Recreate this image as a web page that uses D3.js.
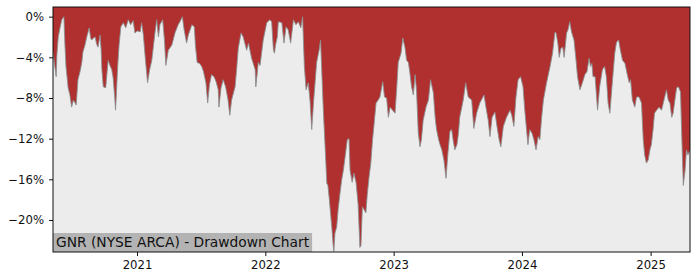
<!DOCTYPE html>
<html>
<head>
<meta charset="utf-8">
<script src="https://cdn.jsdelivr.net/npm/d3@7"></script>
<style>
  html, body { margin: 0; padding: 0; background: #ffffff; }
  svg { display: block; font-family: "DejaVu Sans", sans-serif; }
</style>
</head>
<body>
<svg id="chart" width="700" height="280"></svg>
<script>
const title = "GNR (NYSE ARCA) - Drawdown Chart";
const dates = [
"2020-05-07","2020-05-10","2020-05-16","2020-05-18","2020-05-22","2020-05-27","2020-06-01","2020-06-07","2020-06-10","2020-06-13",
"2020-06-19","2020-06-24","2020-06-29","2020-07-04","2020-07-09","2020-07-12","2020-07-17","2020-07-23","2020-07-28","2020-07-31",
"2020-08-06","2020-08-11","2020-08-18","2020-08-22","2020-08-25","2020-08-30","2020-09-04","2020-09-08","2020-09-12","2020-09-18",
"2020-09-21","2020-09-23","2020-09-27","2020-10-04","2020-10-08","2020-10-11","2020-10-16","2020-10-21","2020-10-25","2020-10-29",
"2020-11-01","2020-11-07","2020-11-11","2020-11-16","2020-11-23","2020-11-30","2020-12-07","2020-12-14","2020-12-21","2020-12-26",
"2021-01-02","2021-01-10","2021-01-14","2021-01-19","2021-01-25","2021-01-31","2021-02-06","2021-02-12","2021-02-17","2021-02-21",
"2021-02-26","2021-03-03","2021-03-07","2021-03-15","2021-03-20","2021-03-24","2021-03-31","2021-04-10","2021-04-19","2021-04-28",
"2021-05-03","2021-05-10","2021-05-15","2021-05-22","2021-05-27","2021-06-06","2021-06-13","2021-06-16","2021-06-21","2021-06-28",
"2021-07-04","2021-07-09","2021-07-16","2021-07-21","2021-07-26","2021-08-01","2021-08-08","2021-08-14","2021-08-20","2021-08-22",
"2021-08-28","2021-09-03","2021-09-10","2021-09-17","2021-09-22","2021-09-27","2021-10-07","2021-10-12","2021-10-16","2021-10-24",
"2021-10-30","2021-11-09","2021-11-14","2021-11-23","2021-12-03","2021-12-05","2021-12-12","2021-12-17","2021-12-26","2022-01-05",
"2022-01-14","2022-01-19","2022-01-24","2022-01-27","2022-01-30","2022-02-04","2022-02-07","2022-02-17","2022-02-23","2022-03-01",
"2022-03-07","2022-03-14","2022-03-22","2022-03-29","2022-04-05","2022-04-12","2022-04-17","2022-04-22","2022-04-27","2022-05-03",
"2022-05-08","2022-05-13","2022-05-18","2022-05-27","2022-06-03","2022-06-07","2022-06-10","2022-06-15","2022-06-20","2022-06-25",
"2022-06-28","2022-07-02","2022-07-09","2022-07-13","2022-07-15","2022-07-18","2022-07-23","2022-07-27","2022-08-01","2022-08-06",
"2022-08-11","2022-08-16","2022-08-22","2022-08-27","2022-08-30","2022-09-05","2022-09-10","2022-09-16","2022-09-22","2022-09-27",
"2022-09-30","2022-10-04","2022-10-09","2022-10-14","2022-10-18","2022-10-23","2022-10-28","2022-11-02","2022-11-06","2022-11-12",
"2022-11-18","2022-11-23","2022-12-01","2022-12-06","2022-12-12","2022-12-17","2022-12-22","2022-12-29","2023-01-05","2023-01-10",
"2023-01-14","2023-01-22","2023-01-27","2023-02-02","2023-02-07","2023-02-12","2023-02-16","2023-02-21","2023-02-26","2023-03-03",
"2023-03-07","2023-03-12","2023-03-17","2023-03-21","2023-03-26","2023-04-03","2023-04-10","2023-04-16","2023-04-24","2023-04-29",
"2023-05-03","2023-05-09","2023-05-13","2023-05-18","2023-05-24","2023-05-30","2023-06-04","2023-06-10","2023-06-15","2023-06-19",
"2023-06-24","2023-06-30","2023-07-04","2023-07-08","2023-07-18","2023-07-25","2023-08-01","2023-08-11","2023-08-17","2023-08-25",
"2023-09-03","2023-09-15","2023-09-22","2023-09-27","2023-10-02","2023-10-08","2023-10-16","2023-10-22","2023-10-28","2023-11-02",
"2023-11-09","2023-11-18","2023-11-28","2023-12-03","2023-12-09","2023-12-15","2023-12-21","2023-12-28","2024-01-04","2024-01-09",
"2024-01-14","2024-01-18","2024-01-23","2024-01-30","2024-02-04","2024-02-10","2024-02-16","2024-02-21","2024-02-26","2024-03-02",
"2024-03-11","2024-03-21","2024-03-28","2024-04-04","2024-04-07","2024-04-12","2024-04-16","2024-04-21","2024-04-26","2024-04-30",
"2024-05-07","2024-05-11","2024-05-16","2024-05-21","2024-05-28","2024-06-02","2024-06-07","2024-06-14","2024-06-21","2024-06-28",
"2024-07-04","2024-07-10","2024-07-14","2024-07-18","2024-07-21","2024-07-27","2024-08-03","2024-08-09","2024-08-17","2024-08-23",
"2024-08-28","2024-09-02","2024-09-07","2024-09-13","2024-09-21","2024-09-26","2024-10-02","2024-10-07","2024-10-13","2024-10-20",
"2024-10-26","2024-11-01","2024-11-05","2024-11-10","2024-11-17","2024-11-22","2024-11-29","2024-12-06","2024-12-11","2024-12-15",
"2024-12-20","2024-12-25","2024-12-30","2025-01-03","2025-01-08","2025-01-12","2025-01-18","2025-01-25","2025-02-01","2025-02-06",
"2025-02-15","2025-02-20","2025-02-25","2025-03-02","2025-03-06","2025-03-11","2025-03-16","2025-03-21","2025-03-27","2025-03-30",
"2025-04-04","2025-04-09","2025-04-13","2025-04-17","2025-04-23"
];
const drawdown = [
-3.5,-4.3,-5.9,-3.8,-2.0,-1.1,-0.3,0,-2.8,-4.9,
-7.0,-7.7,-8.9,-8.2,-8.5,-8.7,-6.2,-5.4,-4.5,-3.5,
-2.8,-2.0,-1.1,-2.1,-2.3,-2.1,-2.0,-2.7,-3.0,-1.8,
-3.3,-5.2,-6.9,-7.0,-5.4,-4.3,-4.8,-5.2,-6.0,-7.7,
-9.2,-4.9,-2.8,-1.0,-0.6,-1.1,-0.3,-0.8,-0.4,-1.6,
-1.4,-1.5,-0.6,-1.8,-4.3,-6.5,-5.2,-4.3,-2.8,-1.6,
-0.3,-2.0,-0.8,-0.3,-2.3,-4.8,-3.3,-2.8,-1.6,-0.8,
-0.5,0,-1.3,-2.6,-1.8,-0.8,-1.0,-2.8,-4.5,-4.6,
-4.9,-5.4,-6.5,-8.5,-6.7,-5.7,-5.9,-6.4,-7.2,-8.9,
-7.0,-6.2,-6.9,-8.2,-9.7,-8.2,-6.9,-4.9,-3.1,-1.6,
-2.0,-3.3,-2.6,-4.1,-5.2,-6.9,-4.5,-4.8,-2.3,-0.6,
-0.3,-0.5,-3.3,-3.6,-2.8,-2.0,-0.5,-0.6,-2.6,-1.0,
-1.3,-2.6,-0.3,-0.8,-0.5,-1.1,0,-4.9,-7.2,-6.5,
-8.2,-11.1,-8.5,-4.5,-3.3,-2.3,-4.9,-9.2,-12.8,-16.4,
-16.6,-18.0,-20.7,-22.5,-23.1,-21.3,-20.7,-19.0,-17.5,-16.1,
-15.1,-13.8,-12.1,-12.0,-15.1,-16.3,-15.4,-16.3,-18.5,-22.7,
-22.5,-18.7,-19.0,-19.3,-17.5,-15.8,-14.4,-12.1,-10.7,-8.5,
-8.2,-7.9,-6.4,-7.9,-8.0,-9.9,-8.9,-9.2,-9.5,-6.9,
-4.5,-3.6,-2.1,-3.0,-4.3,-4.5,-5.5,-6.9,-7.7,-5.7,
-7.2,-11.4,-12.8,-12.1,-10.2,-8.9,-8.2,-6.2,-7.5,-9.9,
-11.1,-12.1,-12.6,-13.1,-14.1,-15.9,-13.6,-11.3,-11.1,-12.1,
-13.1,-12.6,-11.6,-9.9,-8.2,-6.5,-7.9,-8.2,-11.0,-9.5,
-8.5,-7.7,-9.2,-10.2,-11.8,-9.9,-9.4,-10.8,-12.1,-12.8,
-10.8,-9.9,-9.2,-9.7,-10.8,-7.9,-6.2,-5.9,-6.9,-9.2,
-11.1,-12.6,-11.1,-11.5,-12.1,-13.1,-11.8,-12.1,-9.9,-8.2,
-6.5,-4.9,-3.6,-1.5,-1.6,-2.6,-4.0,-3.1,-3.0,-4.0,
-1.6,-1.3,-0.5,-1.5,-2.3,-4.0,-5.9,-7.2,-6.5,-5.7,
-5.4,-4.1,-4.9,-4.6,-5.9,-5.9,-9.2,-6.9,-5.2,-4.9,
-5.9,-8.5,-9.5,-6.9,-3.6,-2.5,-2.3,-3.3,-4.3,-4.6,
-5.6,-6.5,-6.2,-8.2,-8.9,-7.9,-7.9,-8.5,-12.1,-13.6,
-14.4,-14.1,-13.1,-12.6,-11.1,-9.5,-9.2,-8.9,-9.2,-8.5,
-7.2,-8.2,-8.5,-9.9,-9.5,-8.2,-7.0,-6.9,-7.4,-11.1,
-16.6,-15.1,-13.1,-13.6,-13.1
];
const yTickValues = [0, -4, -8, -12, -16, -20];
const xTickYears = ["2021", "2022", "2023", "2024", "2025"];

const parse = d3.utcParse("%Y-%m-%d");
const data = dates.map((d, i) => ({ date: parse(d), v: drawdown[i] }));

const svg = d3.select("#chart");
const m = { left: 53, right: 690, top: 7, bottom: 252 };

const x = d3.scaleUtc()
  .domain([parse("2020-05-07"), parse("2025-04-23")])
  .range([m.left, m.right]);
const y = d3.scaleLinear()
  .domain([-23.15, 0.95])
  .range([m.bottom, m.top]);

// background
svg.append("rect")
  .attr("x", m.left).attr("y", m.top)
  .attr("width", m.right - m.left).attr("height", m.bottom - m.top)
  .attr("fill", "#ececec");

const clip = svg.append("clipPath").attr("id", "clip")
  .append("rect")
  .attr("x", m.left).attr("y", m.top)
  .attr("width", m.right - m.left).attr("height", m.bottom - m.top);

const g = svg.append("g").attr("clip-path", "url(#clip)");

const area = d3.area()
  .x(d => x(d.date))
  .y0(m.top)
  .y1(d => y(d.v));

g.append("path").datum(data)
  .attr("d", area)
  .attr("fill", "#b02f2f");

const line = d3.line()
  .x(d => x(d.date))
  .y(d => y(d.v));

g.append("path").datum(data)
  .attr("d", line)
  .attr("fill", "none")
  .attr("stroke", "#8a8f90")
  .attr("stroke-width", 1)
  .attr("stroke-opacity", 0.85);

// title box
const titleG = svg.append("g");
const tText = titleG.append("text")
  .attr("x", m.left + 3)
  .attr("y", m.bottom - 5)
  .attr("font-size", "13.8px")
  .attr("fill", "#111")
  .text(title);
const tw = tText.node().getComputedTextLength();
titleG.insert("rect", "text")
  .attr("x", m.left)
  .attr("y", m.bottom - 19)
  .attr("width", tw + 6)
  .attr("height", 19)
  .attr("fill", "#b3b3b3");

// axes
const yAxis = d3.axisLeft(y)
  .tickValues(yTickValues)
  .tickSize(4)
  .tickPadding(5)
  .tickFormat(d => (d < 0 ? "\u2212" + Math.abs(d) : d) + "%");
const ya = svg.append("g")
  .attr("transform", `translate(${m.left},0)`)
  .call(yAxis);
ya.select(".domain").remove();

const xAxis = d3.axisBottom(x)
  .tickValues(xTickYears.map(s => parse(s + "-01-01")))
  .tickSize(4)
  .tickPadding(5)
  .tickFormat(d3.utcFormat("%Y"));
const xa = svg.append("g")
  .attr("transform", `translate(0,${m.bottom})`)
  .call(xAxis);
xa.select(".domain").remove();

[ya, xa].forEach(a => {
  a.selectAll("text").attr("font-size", "11.7px").attr("fill", "#111")
    .attr("font-family", "DejaVu Sans, sans-serif");
  a.selectAll("line").attr("stroke", "#111");
});

// frame
svg.append("rect")
  .attr("x", m.left).attr("y", m.top)
  .attr("width", m.right - m.left).attr("height", m.bottom - m.top)
  .attr("fill", "none")
  .attr("stroke", "#111")
  .attr("stroke-width", 1);
</script>
</body>
</html>
